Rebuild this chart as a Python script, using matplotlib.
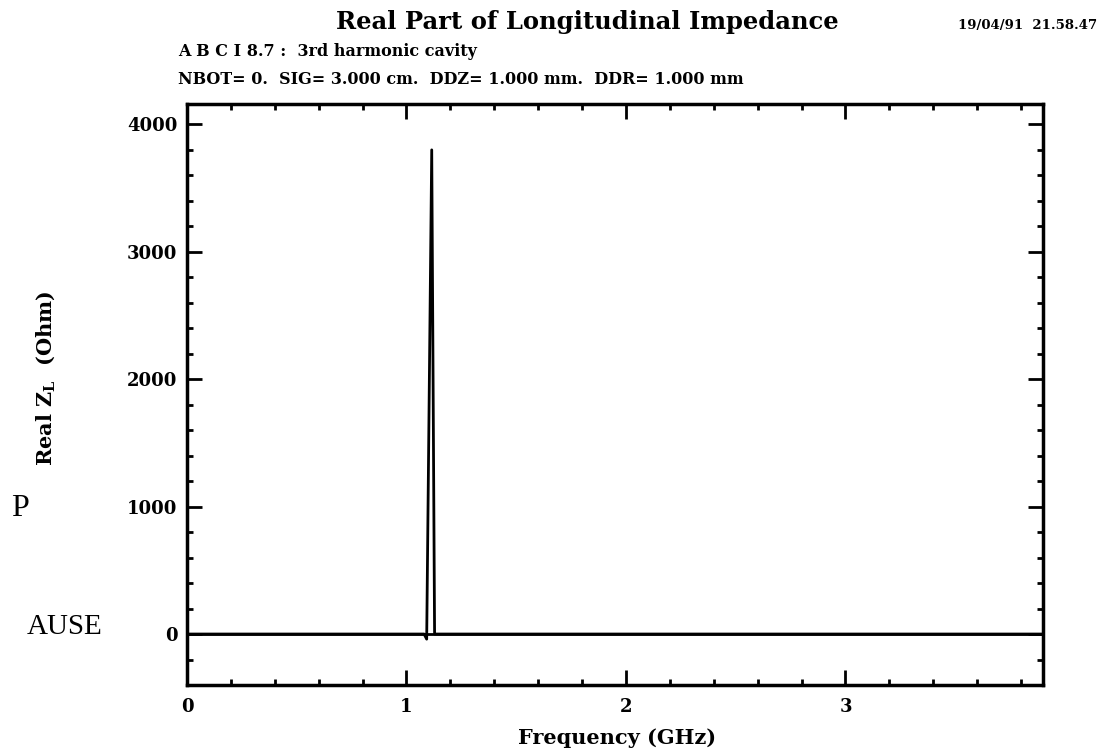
import matplotlib
matplotlib.use("Agg")
import matplotlib.pyplot as plt
from matplotlib.ticker import MultipleLocator

# Data
freq_ghz = [0.0, 1.080, 1.092, 1.115, 1.128, 3.90]
real_zl = [0.0, 0.0, -40.0, 3800.0, 0.0, 0.0]

x_ticks = [0, 1, 2, 3]
x_ticklabels = ["0", "1", "2", "3"]
y_ticks = [0, 1000, 2000, 3000, 4000]
y_ticklabels = ["0", "1000", "2000", "3000", "4000"]

title = "Real Part of Longitudinal Impedance"
stamp = "19/04/91  21.58.47"
sub1 = "A B C I 8.7 :  3rd harmonic cavity"
sub2 = "NBOT= 0.  SIG= 3.000 cm.  DDZ= 1.000 mm.  DDR= 1.000 mm"

FONT = ["DejaVu Serif"]

fig = plt.figure(figsize=(11.03, 7.54), dpi=100)
ax = fig.add_axes([187/1103, 1-685/754, (1043-187)/1103, (685-104)/754])

ax.plot(freq_ghz, real_zl, color="black", lw=2.0)
ax.axhline(0, color="black", lw=2.0)

ax.set_xlim(0, 3.9)
ax.set_ylim(-400, 4160)
ax.set_xticks(x_ticks)
ax.set_xticklabels(x_ticklabels)
ax.set_yticks(y_ticks)
ax.set_yticklabels(y_ticklabels)
ax.xaxis.set_minor_locator(MultipleLocator(0.2))
ax.yaxis.set_minor_locator(MultipleLocator(200))
ax.tick_params(which="both", direction="in", top=True, right=True, width=2, color="black")
ax.tick_params(which="major", length=11, labelsize=13)
ax.tick_params(axis="y", which="major", pad=7)
ax.tick_params(axis="x", which="major", pad=9)
ax.tick_params(which="minor", length=4)
for lab in ax.get_xticklabels() + ax.get_yticklabels():
    lab.set_family(FONT)
    lab.set_fontweight("bold")
for s in ax.spines.values():
    s.set_linewidth(2.5)

fig.text(587/1103, 1-22/754, title, ha="center", va="center", fontsize=17.5,
         fontweight="bold", family=FONT)
fig.text(1097/1103, 1-25/754, stamp, ha="right", va="center", fontsize=9.5,
         fontweight="bold", family=FONT)
fig.text(178/1103, 1-52/754, sub1, ha="left", va="center", fontsize=11.5,
         fontweight="bold", family=FONT)
fig.text(178/1103, 1-80/754, sub2, ha="left", va="center", fontsize=11.5,
         fontweight="bold", family=FONT)

fig.text(617/1103, 1-738/754, "Frequency (GHz)", ha="center", va="center",
         fontsize=15, fontweight="bold", family=FONT)
fig.text(46/1103, 1-378/754, r"Real Z$_\mathregular{L}$  (Ohm)", ha="center",
         va="center", rotation=90, fontsize=15, fontweight="bold", family=FONT)

fig.text(11/1103, 1-509/754, "P", ha="left", va="center", fontsize=23,
         family=["Liberation Serif"])
fig.text(27/1103, 1-627/754, "AUSE", ha="left", va="center", fontsize=21,
         family=["Liberation Serif"])

fig.savefig("out.png", dpi=100)
